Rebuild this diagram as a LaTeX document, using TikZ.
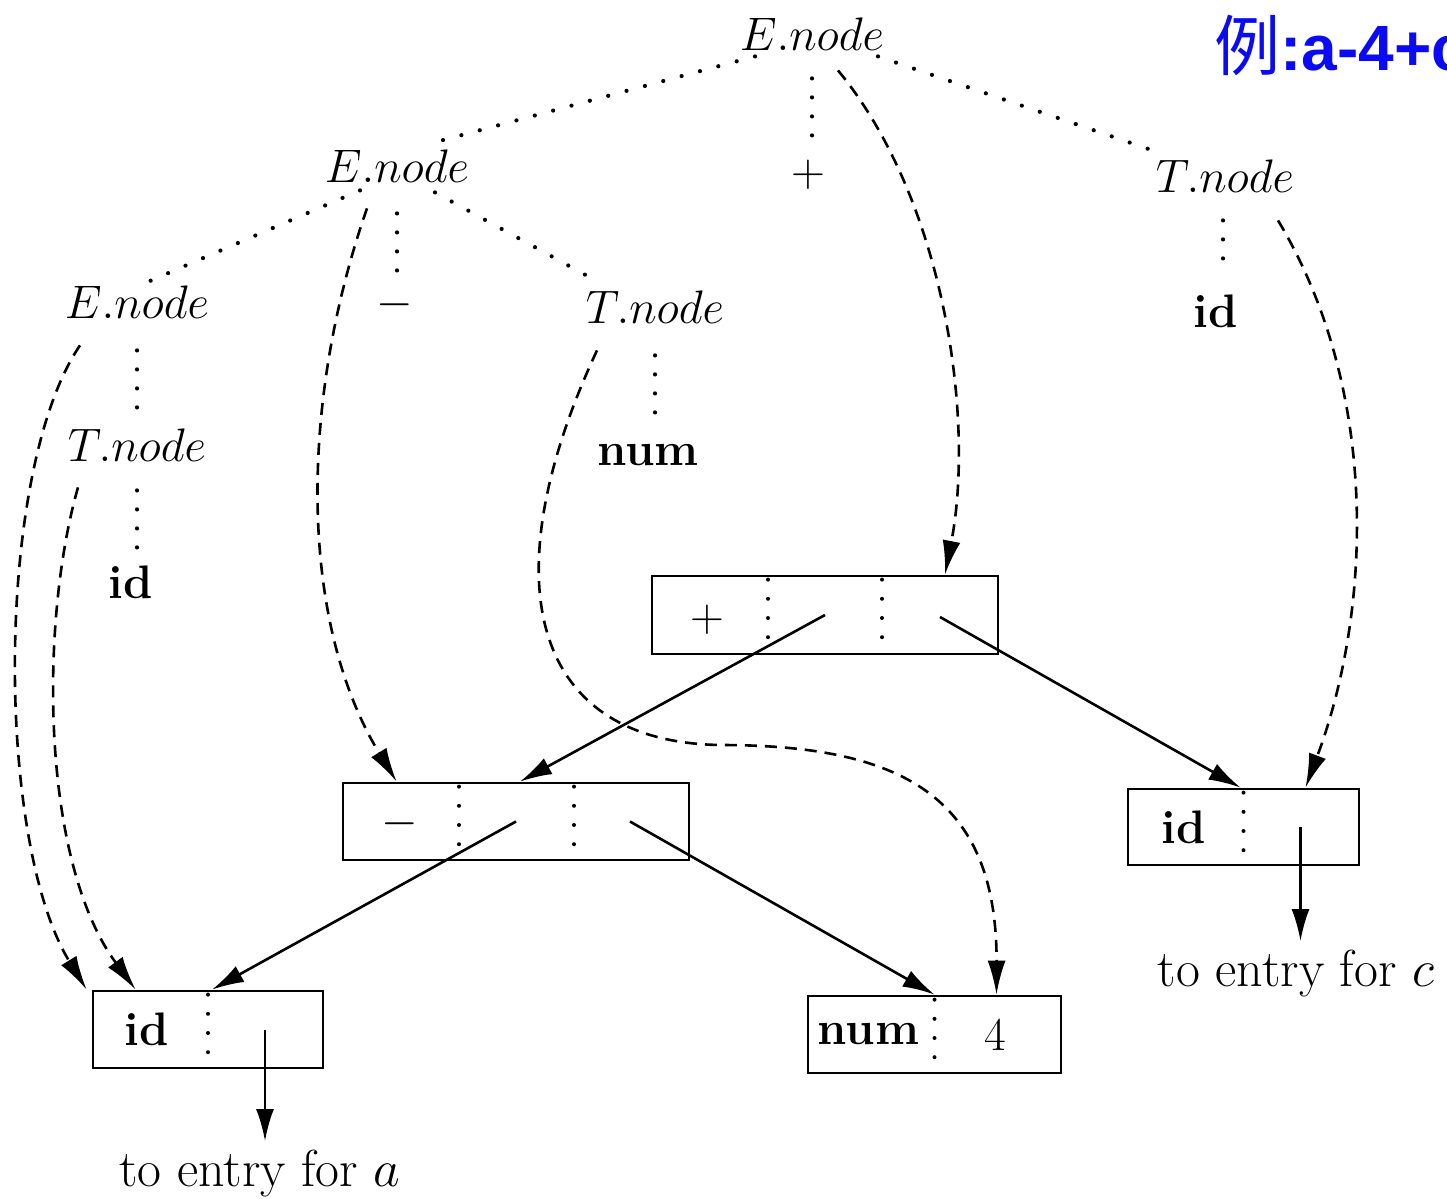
\RequirePackage{fix-cm}
\documentclass[tikz,border=0pt]{standalone}
\usepackage{fontspec}
\usetikzlibrary{arrows.meta,calc}
\newfontfamily\cjkfont{Noto Sans CJK SC}
\newfontfamily\titlefont{Liberation Sans}
\definecolor{titleblue}{RGB}{10,10,245}
\begin{document}
\begin{tikzpicture}[x=0.5pt,y=-0.5pt,
  lbl/.style={inner sep=2pt, font=\fontsize{23.5}{28}\selectfont},
  baselbl/.style={lbl, anchor=base},
  toentry/.style={inner sep=2pt, anchor=base, font=\fontsize{26}{30}\selectfont},
  rec/.style={draw, line width=1.4pt, inner sep=0pt},
  tree/.style={line width=2.1pt, line cap=round, dash pattern=on 0pt off 9.5pt},
  fielddiv/.style={line width=2pt, line cap=round, dash pattern=on 0pt off 9.6pt},
  ptr/.style={line width=1.3pt, -{Latex[length=16pt,width=9pt]}},
  dep/.style={line width=1.3pt, dash pattern=on 6pt off 4pt, -{Latex[length=17pt,width=9pt]}},
]
\useasboundingbox (0,0) rectangle (1447,1199);

% title
\node[anchor=base west, inner sep=0pt, text=titleblue, font=\fontsize{33}{40}\selectfont] (title) at (1214,70) {{\cjkfont 例}{\titlefont\bfseries\fontsize{32}{38}\selectfont :a-4+c}};

% parse tree labels
\node[baselbl] (Etop) at (812,50) {$E.node$};
\node[baselbl] (E2) at (397,182) {$E.node$};
\node[lbl] (plus) at (808,175) {$+$};
\node[baselbl] (Tr) at (1225,192) {$T.node$};
\node[baselbl] (E3) at (137,318) {$E.node$};
\node[lbl] (minus) at (395,305) {$-$};
\node[baselbl] (Tm) at (655,323) {$T.node$};
\node[baselbl] (idr) at (1216,327) {\textbf{id}};
\node[baselbl] (Tl) at (137,461) {$T.node$};
\node[baselbl] (num) at (648,465) {\textbf{num}};
\node[baselbl] (idl) at (131,598) {\textbf{id}};

% record boxes
\node[rec, minimum width=173pt, minimum height=39pt] (pbox) at (825,615) {};
\node[rec, minimum width=173pt, minimum height=38.5pt] (mbox) at (516,821.5) {};
\node[rec, minimum width=115pt, minimum height=38.5pt] (lid) at (208,1029.5) {};
\node[rec, minimum width=126.5pt, minimum height=38.5pt] (numbox) at (934.5,1034.5) {};
\node[rec, minimum width=115.5pt, minimum height=38pt] (ridbox) at (1243.5,827) {};

% field dividers
\draw[fielddiv] ($(pbox.north)+(-57,5)$) -- ($(pbox.north)+(-57,63)$);
\draw[fielddiv] ($(pbox.north)+(57,5)$) -- ($(pbox.north)+(57,63)$);
\draw[fielddiv] ($(mbox.north)+(-57,5)$) -- ($(mbox.north)+(-57,63)$);
\draw[fielddiv] ($(mbox.north)+(58,5)$) -- ($(mbox.north)+(58,63)$);
\draw[fielddiv] ($(lid.north)+(0,5)$) -- ($(lid.north)+(0,63)$);
\draw[fielddiv] ($(numbox.north)+(0,5)$) -- ($(numbox.north)+(0,63)$);
\draw[fielddiv] ($(ridbox.north)+(0,5)$) -- ($(ridbox.north)+(0,63)$);

% field contents
\node[lbl] (pop) at ($(pbox)+(-118,5)$) {$+$};
\node[lbl] (mop) at ($(mbox)+(-116,2)$) {$-$};
\node[lbl] (lidtxt) at ($(lid)+(-61,0)$) {\textbf{id}};
\node[lbl] (numtxt) at ($(numbox)+(-66,0)$) {\textbf{num}};
\node[lbl] (numval) at ($(numbox)+(61,0)$) {4};
\node[lbl] (ridtxt) at ($(ridbox)+(-60,0)$) {\textbf{id}};

% entry labels
\node[toentry] (toc) at (1296,986) {to entry for $c$};
\node[toentry] (toa) at (260,1186) {to entry for $a$};

% parse tree edges (dotted)
\draw[tree] ($(Etop.south)+(-57,2)$) -- ($(E2.north)+(28,0)$);
\draw[tree] ($(Etop.south)+(0,24)$) -- ($(Etop.south |- plus.north)+(0,-16)$);
\draw[tree] ($(Etop.south)+(66,2)$) -- ($(Tr.north west)+(0,-5)$);
\draw[tree] ($(E2.south)+(-37,4)$) -- ($(E3.north)+(13,0)$);
\draw[tree] ($(E2.south)+(0,27)$) -- ($(E2.south |- minus.north)+(0,-14)$);
\draw[tree] ($(E2.south)+(38,6)$) -- ($(Tm.north west)+(6,-10)$);
\draw[tree] ($(E3.south)+(0,28)$) -- ($(E3.south |- Tl.north)+(0,-14)$);
\draw[tree] ($(Tl.south)+(0,25)$) -- ($(Tl.south |- idl.north)+(0,-12)$);
\draw[tree] ($(Tm.south)+(0,28)$) -- ($(Tm.south |- num.north)+(0,-26)$);
\draw[tree] ($(Tr.south)+(-2,24)$) -- ($(Tr.south |- idr.north)+(-2,-13)$);

% pointers (solid)
\draw[ptr] (pbox.center) -- ($(mbox.north)+(4,0)$);
\draw[ptr] ($(pbox.center)+(115,2)$) -- ($(ridbox.north)+(-3,0)$);
\draw[ptr] (mbox.center) -- ($(lid.north)+(4,0)$);
\draw[ptr] ($(mbox.center)+(114,0)$) -- (numbox.north);
\draw[ptr] ($(ridbox.center)+(57,0)$) -- ($(ridbox.center |- toc.north)+(57,-4)$);
\draw[ptr] ($(lid.center)+(57,0)$) -- ($(lid.center |- toa.north)+(57,-4)$);

% attribute links (dashed)
\coordinate (bend) at (720,745);
\draw[dep] ($(Etop.south)+(26,16)$) .. controls (945,200) and (975,420) .. ($(pbox.north)+(120,0)$);
\draw[dep] ($(Tr.south)+(53,24)$) .. controls (1380,390) and (1372,610) .. ($(ridbox.north)+(62,0)$);
\draw[dep] ($(E2.south)+(-30,22)$) .. controls (300,400) and (298,620) .. ($(mbox.north west)+(55,0)$);
\draw[dep] ($(Tm.south)+(-58,23)$) .. controls (490,580) and (530,742) .. (bend) .. controls (900,745) and (997,795) .. ($(numbox.north)+(62,0)$);
\draw[dep] ($(E3.south)+(-57,23)$) .. controls (-5,470) and (-5,840) .. ($(lid.north west)+(-5,0)$);
\draw[dep] ($(Tl.south)+(-59,22)$) .. controls (40,620) and (40,860) .. ($(lid.north west)+(44,0)$);
\end{tikzpicture}
\end{document}
